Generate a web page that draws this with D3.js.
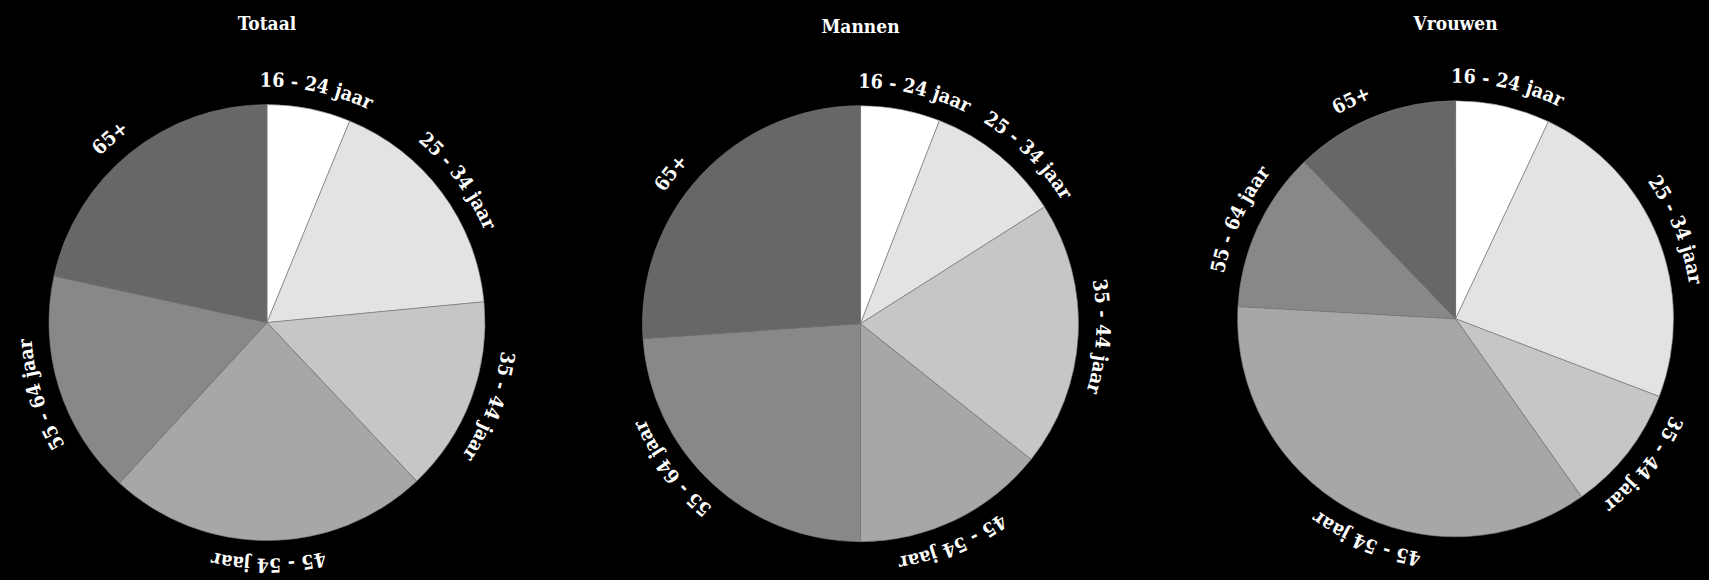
<!DOCTYPE html>
<html>
<head>
<meta charset="utf-8">
<script src="https://cdn.jsdelivr.net/npm/d3@7"></script>
<style>
  html, body { margin: 0; padding: 0; background: #000; }
  svg { display: block; }
</style>
</head>
<body>
<script>
// age groups, clockwise from 12 o'clock
const categories = ["16 - 24 jaar", "25 - 34 jaar", "35 - 44 jaar", "45 - 54 jaar", "55 - 64 jaar", "65+"];
const titles = ["Totaal", "Mannen", "Vrouwen"];

// share per age group (%)
const totaal = [6.2, 17.3, 14.5, 23.9, 16.6, 21.6];
const mannen = [5.9, 10.1, 19.7, 14.3, 23.9, 26.1];
const vrouwen = [7.0, 23.8, 9.4, 35.7, 11.9, 12.2];

const colors = ["#ffffff", "#e2e3e2", "#c5c6c7", "#a6a7a9", "#87888a", "#666769"];

const width = 1709, height = 580;
const radius = 218;
const labelRadius = 236;

// where each pie sits; nudge = label shift in degrees (labels pushed apart)
const panels = [
  { values: totaal, cx: 267, cy: 322.6, ty: 29.6, nudge: [0.8, 0, 0, 0, 0, -1.5] },
  { values: mannen, cx: 860.5, cy: 323.7, ty: 33.3, nudge: [2.5, 5.5, 0, 3, 9.5, -4.5] },
  { values: vrouwen, cx: 1455.6, cy: 318.8, ty: 30.3, nudge: [0, 0, 0, -7, 0, -3.5] }
];

const color = d3.scaleOrdinal().domain(categories).range(colors);

const pie = d3.pie()
  .sort(null)
  .value(d => d.value);

const arc = d3.arc()
  .innerRadius(0)
  .outerRadius(radius);

const svg = d3.select("body")
  .append("svg")
  .attr("width", width)
  .attr("height", height);

svg.append("rect")
  .attr("width", width)
  .attr("height", height)
  .attr("fill", "#000");

panels.forEach((p, pi) => {
  const rows = categories.map((c, i) => ({ cat: c, value: p.values[i] }));
  const arcs = pie(rows);

  svg.append("text")
    .attr("x", p.cx)
    .attr("y", p.ty)
    .attr("text-anchor", "middle")
    .attr("fill", "#fff")
    .style("font-family", "'DejaVu Serif Condensed', 'DejaVu Serif', serif")
    .style("font-stretch", "condensed")
    .style("font-weight", "bold")
    .style("font-size", "19px")
    .text(titles[pi]);

  const g = svg.append("g")
    .attr("transform", `translate(${p.cx},${p.cy})`);

  g.selectAll("path.slice")
    .data(arcs)
    .join("path")
    .attr("class", "slice")
    .attr("d", arc)
    .attr("fill", d => color(d.data.cat))
    .attr("stroke", "#7a7a7a")
    .attr("stroke-width", 0.6);

  // a full circle per label, starting half a turn before the slice middle,
  // so the text centred at 50% lands on the slice middle
  arcs.forEach((d, i) => {
    const mid = (d.startAngle + d.endAngle) / 2 + p.nudge[i] * Math.PI / 180;
    const a0 = mid - Math.PI - Math.PI / 2;
    const path = d3.path();
    path.moveTo(labelRadius * Math.cos(a0), labelRadius * Math.sin(a0));
    path.arc(0, 0, labelRadius, a0, a0 + Math.PI);
    path.arc(0, 0, labelRadius, a0 + Math.PI, a0 + 2 * Math.PI - 0.0001);
    const id = `lbl-${pi}-${i}`;
    g.append("path")
      .attr("id", id)
      .attr("d", path.toString())
      .attr("fill", "none")
      .attr("stroke", "none");
    g.append("text")
      .attr("fill", "#fff")
      .style("font-family", "'DejaVu Serif Condensed', 'DejaVu Serif', serif")
      .style("font-stretch", "condensed")
      .style("font-weight", "bold")
      .style("font-size", "19.5px")
      .append("textPath")
      .attr("href", `#${id}`)
      .attr("startOffset", "50%")
      .attr("text-anchor", "middle")
      .text(d.data.cat);
  });
});
</script>
</body>
</html>
